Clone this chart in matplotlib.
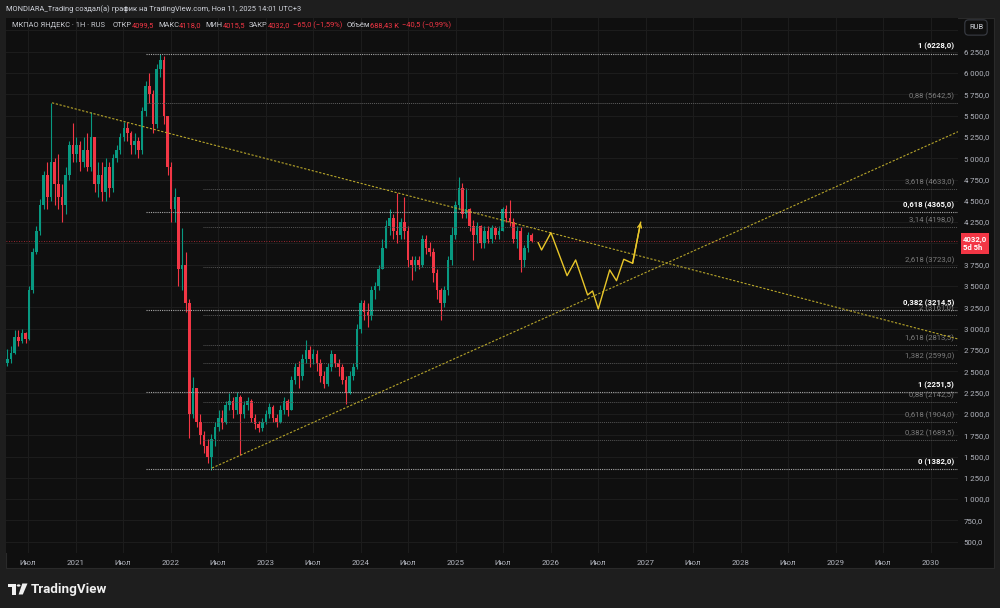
import numpy as np
import pandas as pd
import matplotlib
matplotlib.use('Agg')
import matplotlib.pyplot as plt
import matplotlib.dates as mdates
from matplotlib.patches import Rectangle, Polygon, Circle

plt.rcParams['font.family'] = ['Roboto', 'DejaVu Sans']

# --- данные (свечи по ~2 недели) ---
candle_start = '2020-04-13'
first_open = 2600
closes = [2650, 2720, 2900, 2850, 2950, 2880, 3450, 3900, 4150, 4450,
          4800, 4550, 4950, 4700, 4550, 4450, 4800, 5150, 5050, 5150,
          4950, 5100, 4900, 5250, 4700, 4800, 4600, 4900, 4650, 5000,
          5100, 5250, 5350, 5300, 5150, 5200, 5100, 5550, 5850, 5750,
          5400, 6050, 6150, 5500, 4900, 4400, 4550, 3700, 3750, 3300,
          2000, 2300, 1900, 1750, 1620, 1500, 1700, 1850, 1950, 1900,
          2100, 2150, 2050, 2200, 2000, 2100, 2150, 1950, 1880, 1830,
          1900, 2000, 2080, 1950, 1900, 2050, 2150, 2050, 2400, 2550,
          2450, 2650, 2750, 2650, 2700, 2600, 2450, 2350, 2550, 2700,
          2600, 2550, 2400, 2250, 2450, 2550, 3000, 3300, 3200, 3150,
          3450, 3500, 3700, 3950, 4200, 4300, 4150, 4100, 4250, 4150,
          3800, 3750, 3800, 3750, 4050, 3950, 3900, 3650, 3450, 3300,
          3450, 3800, 4100, 4450, 4650, 4350, 4400, 4200, 4100, 4200,
          4000, 4150, 4050, 4180, 4100, 4150, 4400, 4300, 4250, 4050,
          4150, 3800, 3950, 4100, 4032]
highs = [2760, 2800, 2980, 2990, 3000, 2960, 3500, 3950, 4200, 4520,
         4850, 4950, 5650, 5000, 5050, 4700, 4900, 5200, 5410, 5250,
         5200, 5250, 5300, 5540, 5250, 4950, 4950, 5000, 4950, 5050,
         5150, 5300, 5420, 5420, 5320, 5300, 5250, 5600, 5900, 6000,
         5800, 6100, 6228, 6200, 5500, 4950, 4650, 4550, 4180, 3900,
         3350, 2430, 2300, 2000, 1800, 1700, 1760, 1900, 2050, 2050,
         2150, 2250, 2200, 2260, 2220, 2150, 2200, 2180, 2000, 1920,
         1950, 2050, 2130, 2100, 2000, 2100, 2200, 2180, 2450, 2600,
         2620, 2700, 2870, 2800, 2760, 2750, 2650, 2500, 2600, 2750,
         2700, 2650, 2580, 2450, 2500, 2600, 3050, 3340, 3340, 3300,
         3500, 3550, 3750, 4050, 4270, 4400, 4350, 4590, 4300, 4550,
         4200, 3850, 3850, 3850, 4100, 4100, 4020, 3950, 3700, 3480,
         3500, 3850, 4190, 4500, 4780, 4710, 4650, 4420, 4280, 4250,
         4220, 4200, 4200, 4220, 4200, 4200, 4430, 4450, 4510, 4300,
         4200, 4190, 3980, 4130, 4118]
lows = [2560, 2600, 2700, 2800, 2830, 2830, 2870, 3420, 3880, 4100,
        4400, 4400, 4500, 4450, 4400, 4250, 4350, 4750, 4950, 4950,
        4850, 4900, 4850, 4850, 4600, 4550, 4500, 4500, 4550, 4600,
        4950, 5050, 5200, 5200, 5050, 5050, 5000, 5050, 5500, 5650,
        5300, 5350, 5950, 5400, 4800, 4250, 4250, 3500, 3450, 3200,
        1720, 1950, 1850, 1650, 1540, 1420, 1343, 1620, 1800, 1820,
        1880, 2050, 1950, 2000, 1520, 1950, 2050, 1900, 1820, 1790,
        1800, 1880, 1950, 1900, 1850, 1890, 2000, 1980, 2050, 2350,
        2300, 2400, 2600, 2550, 2580, 2500, 2380, 2300, 2330, 2500,
        2550, 2450, 2350, 2120, 2230, 2400, 2530, 2950, 3100, 3020,
        3100, 3350, 3450, 3700, 3950, 4100, 4050, 4000, 4050, 4050,
        3720, 3570, 3680, 3700, 3720, 3880, 3850, 3550, 3350, 3100,
        3250, 3400, 3750, 4050, 4400, 4300, 4300, 4150, 3800, 4000,
        3950, 3950, 4000, 4000, 4050, 4050, 4150, 4250, 4200, 4000,
        3950, 3660, 3720, 3900, 4015.5]

# уровни Фибоначчи
fib_main_labels = ['1 (6228,0)', '0,88 (5642,5)', '0,618 (4365,0)', '0,382 (3214,5)', '1 (2251,5)', '0 (1382,0)']
fib_main_values = [6228, 5642.5, 4365, 3214.5, 2251.5, 1355]
fib_main_bright = [True, False, True, True, True, True]
fib_main_start = '2021-09-28'

fib_ext_labels = ['3,618 (4633,0)', '3,14 (4198,0)', '2,618 (3723,0)', '2 (3161,0)', '1,618 (2813,5)',
                  '1,382 (2599,0)', '0,88 (2142,5)', '0,618 (1904,0)', '0,382 (1689,5)']
fib_ext_values = [4633, 4198, 3723, 3161, 2813.5, 2599, 2142.5, 1904, 1689.5]
fib_ext_start = '2022-05-06'

# трендовые линии
trend_desc_dates = ['2020-10-02', '2030-04-16']
trend_desc_prices = [5650, 2879]
trend_asc_dates = ['2022-06-09', '2030-04-16']
trend_asc_prices = [1365, 5311]

# прогноз
fc_dates = ['2025-11-14', '2025-11-27', '2026-01-02', '2026-03-05', '2026-04-07', '2026-05-23',
            '2026-06-11', '2026-07-03', '2026-08-16', '2026-09-11', '2026-10-09', '2026-11-12', '2026-12-13']
fc_prices = [4009, 3923, 4126, 3622, 3806, 3395, 3442, 3231, 3689, 3563, 3814, 3767, 4248]

price_ticks = list(range(500, 6501, 250))
hidden_ticks = [4000, 6500]   # закрыты меткой цены и кнопкой RUB
last_price = 4032.0

W, H = 1000, 608
UP, DOWN = '#089981', '#f23645'
BG_OUT, BG = '#1e1e1e', '#0f0f0f'
TXT = '#b2b5be'

fig = plt.figure(figsize=(W / 100, H / 100), dpi=100, facecolor=BG_OUT)

# панель графика
fig.patches.append(Rectangle((6 / W, 1 - 568 / H), 988 / W, 550 / H, transform=fig.transFigure,
                             fc=BG, ec='#2a2a2a', lw=0.8, zorder=-5))

ax = fig.add_axes([6 / W, 1 - 553 / H, 952 / W, 535 / H])
ax.set_facecolor(BG)
for s in ax.spines.values():
    s.set_visible(False)

x0 = mdates.date2num(pd.Timestamp('2020-04-08'))
x1 = mdates.date2num(pd.Timestamp('2030-04-16'))

# свечи
dates = mdates.date2num(pd.date_range(candle_start, periods=len(closes), freq='14D'))
c = np.array(closes, dtype=float)
o = np.array([first_open] + closes[:-1], dtype=float)
cols = [UP if cc >= oo else DOWN for oo, cc in zip(o, c)]
ax.vlines(dates, lows, highs, colors=cols, lw=0.8, zorder=3)
ax.bar(dates, np.maximum(np.abs(c - o), 8), bottom=np.minimum(o, c), width=10,
       color=cols, lw=0, zorder=4)

# линия текущей цены
ax.axhline(last_price, color=DOWN, lw=0.6, ls=(0, (1, 2)), alpha=0.8, zorder=2)

# Фибо
xm = mdates.date2num(pd.Timestamp(fib_main_start))
for lab, v, br in zip(fib_main_labels, fib_main_values, fib_main_bright):
    ax.hlines(v, xm, x1, colors='#a8a8a8' if br else '#5e5e5e', lw=0.8 if br else 0.7,
              linestyles=(0, (1, 1)), zorder=5)
    ax.annotate(lab, xy=(0.9958, v), xycoords=('axes fraction', 'data'), xytext=(0, 2.2),
                textcoords='offset points', ha='right', va='bottom', fontsize=5.6,
                color='#ffffff' if br else '#7c7c7c', fontweight='bold' if br else 'normal', zorder=7)
xe = mdates.date2num(pd.Timestamp(fib_ext_start))
for lab, v in zip(fib_ext_labels, fib_ext_values):
    ax.hlines(v, xe, x1, colors='#555555', lw=0.7, linestyles=(0, (1, 1)), zorder=5)
    ax.annotate(lab, xy=(0.9958, v), xycoords=('axes fraction', 'data'), xytext=(0, 2.2),
                textcoords='offset points', ha='right', va='bottom', fontsize=5.6,
                color='#7c7c7c', zorder=6)

# тренды
for d, p in ((trend_desc_dates, trend_desc_prices), (trend_asc_dates, trend_asc_prices)):
    ax.plot(mdates.date2num(pd.to_datetime(d)), p, color='#b8a62a', lw=0.8,
            ls=(0, (2, 1.5)), zorder=6)

# прогноз
fx = mdates.date2num(pd.to_datetime(fc_dates))
ax.plot(fx, fc_prices, color='#e8c62a', lw=1.0, zorder=8)
ax.annotate('', xy=(fx[-1], fc_prices[-1]), xytext=(fx[-2], fc_prices[-2]),
            arrowprops=dict(arrowstyle='->', color='#e8c62a', lw=1.0,
                            mutation_scale=7, shrinkA=0, shrinkB=0), zorder=8)

# оси
def price_fmt(v):
    if v in hidden_ticks:
        return ''
    if v >= 1000:
        return f'{v // 1000}\u2009{v % 1000:03d},0'
    return f'{v},0'

ax.yaxis.tick_right()
ax.set_yticks(price_ticks)
ax.set_yticklabels([price_fmt(v) for v in price_ticks])
ax.tick_params(axis='y', length=0, pad=4, labelsize=5.7, labelcolor=TXT)

xt, xl = [], []
for yr in range(2020, 2031):
    for m in (1, 7):
        d = pd.Timestamp(year=yr, month=m, day=1)
        if x0 < mdates.date2num(d) < x1:
            xt.append(mdates.date2num(d))
            xl.append(str(yr) if m == 1 else 'Июл')
ax.set_xticks(xt)
ax.set_xticklabels(xl)
ax.tick_params(axis='x', length=0, pad=5, labelsize=5.7, labelcolor=TXT)
ax.grid(True, color='#1c1c1c', lw=0.8)
ax.set_axisbelow(True)
ax.set_xlim(x0, x1)
ax.set_ylim(368, 6645)

# метка цены
ax.annotate('4032,0\n5d 5h', xy=(1, last_price), xycoords=('axes fraction', 'data'),
            xytext=(3.5, 3.5), textcoords='offset points', ha='left', va='top',
            fontsize=5.6, color='white', fontweight='bold', linespacing=1.25,
            bbox=dict(boxstyle='square,pad=0.3', fc=DOWN, ec='none'), annotation_clip=False, zorder=10)

# заголовок
fig.text(6 / W, 1 - 9 / H, 'MONDIARA_Trading создал(а) график на TradingView.com, Ноя 11, 2025 14:01 UTC+3',
         fontsize=5.4, color='#d1d4dc', va='center')

# строка легенды
renderer = fig.canvas.get_renderer()
parts = [('МКПАО ЯНДЕКС · 1H · RUS', '#c8cad0', 8), ('ОТКР', '#c8cad0', 0), ('4099,5', DOWN, 4),
         ('МАКС', '#c8cad0', 0), ('4118,0', DOWN, 4), ('МИН', '#c8cad0', 0), ('4015,5', DOWN, 4),
         ('ЗАКР', '#c8cad0', 0), ('4032,0', DOWN, 3), ('−65,0 (−1,59%)', DOWN, 4),
         ('Объём', '#c8cad0', 0), ('688,43 K', DOWN, 3), ('−40,5 (−0,99%)', DOWN, 0)]
xpos = 11.5
for s, col, gap in parts:
    t = fig.text(xpos / W, 1 - 25.5 / H, s, fontsize=5.4, color=col, va='center')
    bb = t.get_window_extent(renderer=renderer)
    xpos = bb.x1 + gap

# RUB
fig.text(976 / W, 1 - 27.5 / H, 'RUB', fontsize=5.4, color='#d1d4dc', ha='center', va='center',
         bbox=dict(boxstyle='round,pad=0.55,rounding_size=0.5', fc=BG, ec='#3a3d45', lw=0.8))

# логотип TradingView
def px(x, y):
    return (x / W, 1 - y / H)
fig.patches.append(Polygon([px(8, 583.5), px(16, 583.5), px(16, 594.5), px(12.2, 594.5),
                            px(12.2, 587.3), px(8, 587.3)], closed=True, transform=fig.transFigure,
                           fc='#f0f0f0', ec='none'))
fig.patches.append(Polygon([px(22.3, 583.5), px(27.5, 583.5), px(22.8, 594.5), px(18.6, 594.5)],
                           closed=True, transform=fig.transFigure, fc='#f0f0f0', ec='none'))
fig.patches.append(Circle(px(18.6, 585.5), 1.9 / W, transform=fig.transFigure, fc='#f0f0f0', ec='none'))
fig.text(30.5 / W, 1 - 589 / H, 'TradingView', fontsize=9.6, color='#f0f0f0', fontweight='bold', va='center')

fig.savefig('out.png', dpi=100, facecolor=BG_OUT)
